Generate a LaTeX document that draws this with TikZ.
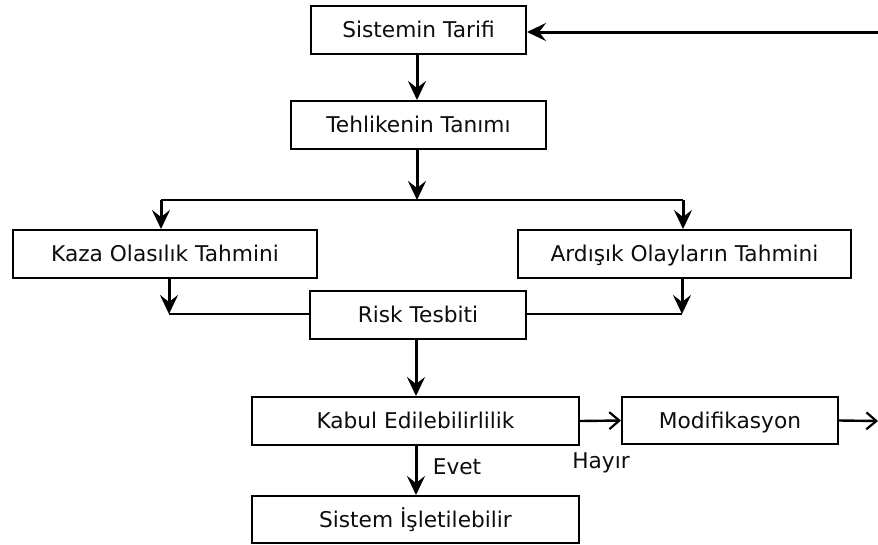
\documentclass[tikz,border=0pt]{standalone}
\usepackage{fontspec}
\setmainfont{DejaVu Sans}
\usetikzlibrary{arrows.meta,calc}
\begin{document}
\begin{tikzpicture}[x=1pt,y=-1pt,
  txt/.style={font=\fontsize{21.7}{25}\selectfont,text=black!95,text height=15.8pt,text depth=0pt},
  box/.style={txt,draw=black,line width=2pt,fill=white,inner sep=0pt},
  con/.style={line width=3pt},
  arr/.style={con,-{Stealth[length=19pt,width=18pt,inset=7pt]}},
  barb/.style={line width=2.4pt,-{Straight Barb[length=10pt,width=17pt,line width=2.2pt]}},
  lbl/.style={txt,inner sep=0pt}]
\useasboundingbox (0,0) rectangle (878,544);
\node[box,minimum width=215pt,minimum height=48pt] (tarif) at (418.5,30) {Sistemin Tarifi};
\node[box,minimum width=255pt,minimum height=48pt] (tanim) at (418.5,125) {Tehlikenin Tanımı};
\node[box,minimum width=304pt,minimum height=48pt] (kaza) at (165,254) {Kaza Olasılık Tahmini};
\node[box,minimum width=333pt,minimum height=48pt] (ardisik) at (684.5,254) {Ardışık Olayların Tahmini};
\node[box,minimum width=216pt,minimum height=48pt] (risk) at (418,315) {Risk Tesbiti};
\node[box,minimum width=327pt,minimum height=48pt] (kabul) at (415.5,421) {Kabul Edilebilirlilik};
\node[box,minimum width=216pt,minimum height=47pt] (modif) at (730,420.5) {Modifikasyon};
\node[box,minimum width=327pt,minimum height=47pt] (islet) at (415.5,519.5) {Sistem İşletilebilir};
% coordinates
\coordinate (fb) at (878,32);
\coordinate (split) at (417,200);
\coordinate (sl) at (161,200);
\coordinate (sr) at (683,200);
\coordinate (kl) at (169,314);
\coordinate (kr) at (682,314);
\coordinate (out) at (878,421);
% connectors
\draw[arr] (fb) -- (fb -| tarif.east);
\draw[arr] (tarif.south -| split) -- (tanim.north -| split);
\draw[arr] (tanim.south -| split) -- (split);
\draw[con,line width=2.4pt] (sl) -- (sr);
\draw[arr] (sl) -- (sl |- kaza.north);
\draw[arr] (sr) -- (sr |- ardisik.north);
\draw[arr] (kaza.south -| kl) -- (kl);
\draw[con,line width=2.4pt] (kl) -- (kl -| risk.west);
\draw[arr] (ardisik.south -| kr) -- (kr);
\draw[con,line width=2.4pt] (kr) -- (kr -| risk.east);
\draw[arr] (risk.south -| 416,0) -- (kabul.north -| 416,0);
\draw[arr] (kabul.south -| 416,0) -- (islet.north -| 416,0);
\draw[barb] (kabul.east) -- (modif.west);
\draw[barb] (modif.east) -- (out);
% labels
\node[lbl] (evet) at (457,467) {Evet};
\node[lbl] (hayir) at (601,461) {Hayır};
\end{tikzpicture}
\end{document}
